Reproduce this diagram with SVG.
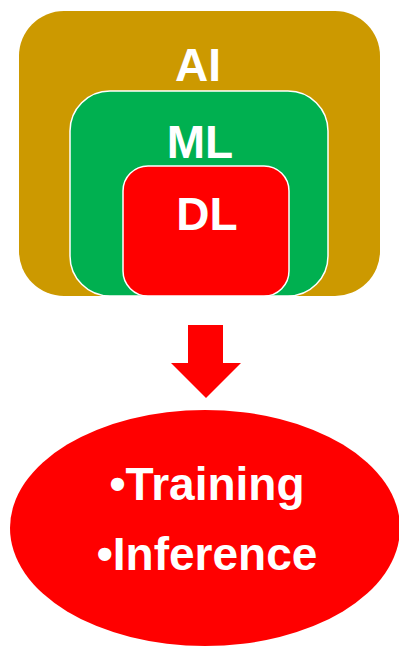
<svg xmlns="http://www.w3.org/2000/svg" width="399" height="647" viewBox="0 0 399 647">
<style>
.t{font-family:"Liberation Sans",Arial,sans-serif;font-weight:bold;font-size:46px;fill:#fff;text-anchor:middle}
</style>
<rect width="399" height="647" fill="#fff"/>
<g id="ai"><rect x="19" y="11" width="361" height="285" rx="45" fill="#CC9900"/><text class="t" x="198" y="81">AI</text></g>
<g id="ml"><rect x="70" y="91" width="258" height="205" rx="40" fill="#00B050" stroke="#fff" stroke-width="1.5"/><text class="t" x="200" y="158">ML</text></g>
<g id="dl"><rect x="123" y="166" width="166" height="130" rx="25" fill="#FF0000" stroke="#fff" stroke-width="1.5"/><text class="t" x="207" y="230">DL</text></g>
<g id="connectors"><polygon points="188,325 223,325 223,363 241,363 206,398 171,363 188,363" fill="#FF0000"/></g>
<g id="tasks"><ellipse cx="205" cy="528" rx="195" ry="118" fill="#FF0000"/><text class="t" x="207" y="500">•Training</text><text class="t" x="207" y="570">•Inference</text></g>
</svg>
